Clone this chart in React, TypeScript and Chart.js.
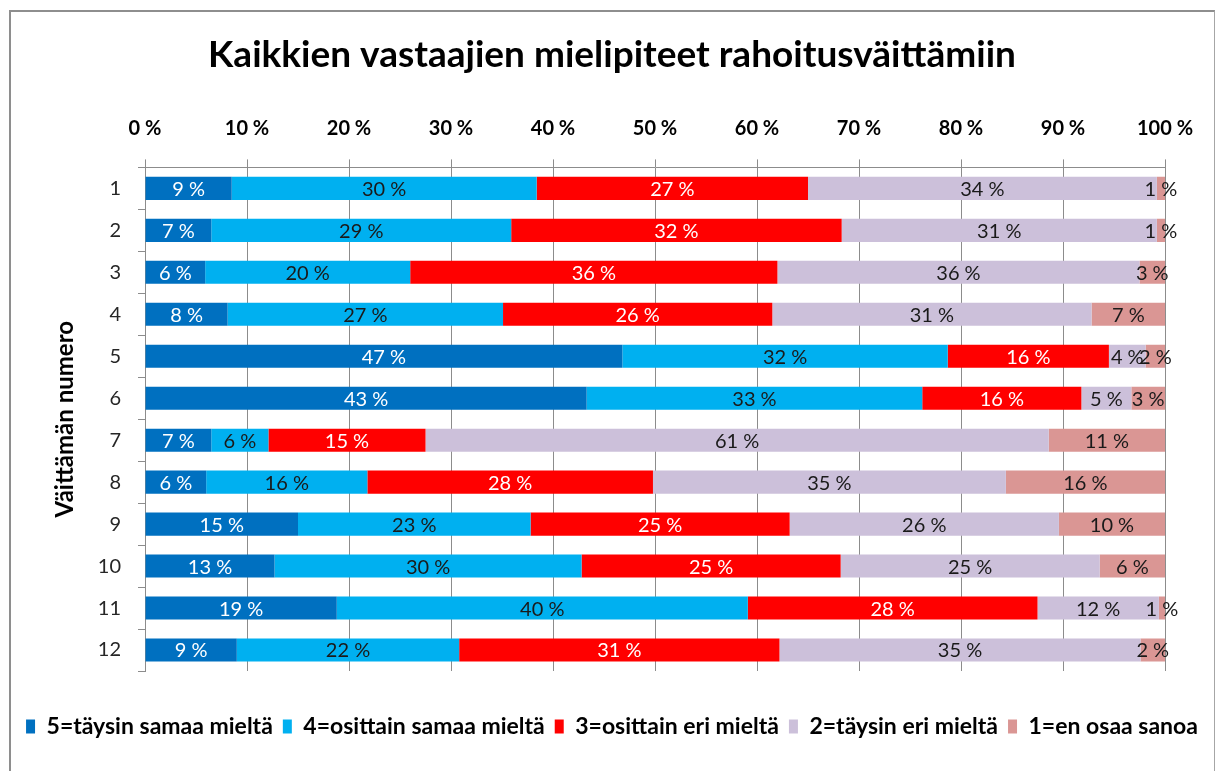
import React, { useEffect, useRef } from 'react';
import { Chart, registerables } from 'chart.js';

Chart.register(...registerables);

const chartTitle = 'Kaikkien vastaajien mielipiteet rahoitusväittämiin';
const yTitle = 'Väittämän numero';
const categories = ['1', '2', '3', '4', '5', '6', '7', '8', '9', '10', '11', '12'];
const seriesNames = [
  '5=täysin samaa mieltä',
  '4=osittain samaa mieltä',
  '3=osittain eri mieltä',
  '2=täysin eri mieltä',
  '1=en osaa sanoa',
];
const seriesColors = ['#0070C0', '#00B0F0', '#FF0000', '#CCC0DA', '#DA9694'];
const labelColors = ['#FFFFFF', '#1A1A1A', '#FFFFFF', '#1A1A1A', '#1A1A1A'];

const s5 = [8.5, 6.5, 5.9, 8.1, 46.8, 43.3, 6.5, 6.0, 15.0, 12.7, 18.8, 9.0];
const s4 = [29.9, 29.4, 20.1, 27.0, 31.9, 32.9, 5.6, 15.8, 22.8, 30.1, 40.3, 21.8];
const s3 = [26.6, 32.4, 36.0, 26.4, 15.8, 15.6, 15.4, 28.0, 25.4, 25.4, 28.4, 31.4];
const s2 = [34.2, 30.9, 35.5, 31.3, 3.6, 4.9, 61.1, 34.6, 26.4, 25.4, 11.9, 35.4];
const s1 = [0.8, 0.8, 2.5, 7.2, 1.9, 3.3, 11.4, 15.6, 10.4, 6.4, 0.6, 2.4];
const seriesValues = [s5, s4, s3, s2, s1];

const FONT = 'Lato';

const barLabels = {
  id: 'barLabels',
  afterDatasetsDraw(chart: any) {
    const ctx = chart.ctx;
    ctx.save();
    ctx.font = `20px ${FONT}`;
    ctx.textAlign = 'center';
    ctx.textBaseline = 'middle';
    chart.data.datasets.forEach((ds: any, i: number) => {
      const meta = chart.getDatasetMeta(i);
      meta.data.forEach((bar: any, j: number) => {
        const v = ds.data[j] as number;
        const { x, y, base } = bar.getProps(['x', 'y', 'base'], true);
        ctx.fillStyle = labelColors[i];
        ctx.fillText(`${Math.round(v)} %`, (x + base) / 2, y + 1);
      });
    });
    ctx.restore();
  },
};

export default function App() {
  const ref = useRef<HTMLCanvasElement | null>(null);

  useEffect(() => {
    let chart: Chart | null = null;
    let cancelled = false;
    const make = () => {
      if (cancelled || !ref.current) return;
      chart = new Chart(ref.current, {
        type: 'bar',
        data: {
          labels: categories,
          datasets: seriesNames.map((name, i) => ({
            label: name,
            data: seriesValues[i],
            backgroundColor: seriesColors[i],
            borderWidth: 0,
            barPercentage: 0.55,
            categoryPercentage: 1,
          })),
        },
        options: {
          indexAxis: 'y',
          responsive: false,
          animation: false,
          devicePixelRatio: 1,
          layout: { padding: { left: 8, right: 0, top: 0, bottom: 23 } },
          plugins: {
            title: {
              display: true,
              text: chartTitle,
              color: '#000',
              font: { family: FONT, size: 37, weight: 'bold' },
              padding: { top: 33, bottom: 0 },
            },
            legend: {
              position: 'bottom',
              labels: {
                boxWidth: 9,
                boxHeight: 14,
                padding: 10,
                color: '#000',
                font: { family: FONT, size: 23, weight: 'bold' },
              },
            },
            tooltip: { enabled: false },
          },
          scales: {
            x: {
              type: 'linear',
              position: 'top',
              stacked: true,
              min: 0,
              max: 100,
              ticks: {
                stepSize: 10,
                padding: 19,
                color: '#000',
                font: { family: FONT, size: 20, weight: 'bold' },
                callback: (v: any) => `${v} %`,
              },
              grid: { color: '#8c8c8c', tickLength: 8, lineWidth: 1 },
              border: { display: true, color: '#8c8c8c' },
              afterFit: (s: any) => {
                s.height = 90;
              },
            },
            x2: {
              type: 'linear',
              position: 'bottom',
              display: true,
              ticks: { display: false },
              grid: { display: false },
              border: { display: false },
              afterFit: (s: any) => {
                s.height = 34;
              },
            },
            y: {
              type: 'category',
              stacked: true,
              ticks: {
                padding: 17,
                color: '#262626',
                font: { family: FONT, size: 20 },
              },
              grid: {
                drawOnChartArea: false,
                offset: true,
                tickLength: 7,
                color: '#8c8c8c',
              },
              border: { display: true, color: '#8c8c8c' },
              title: {
                display: true,
                text: yTitle,
                color: '#000',
                font: { family: FONT, size: 24, weight: 'bold' },
                padding: { top: 43, bottom: 0 },
              },
              afterFit: (s: any) => {
                s.width = 137;
              },
            },
            y2: {
              type: 'linear',
              position: 'right',
              display: true,
              ticks: { display: false },
              grid: { display: false },
              border: { display: false },
              afterFit: (s: any) => {
                s.width = 51;
              },
            },
          },
        } as any,
        plugins: [barLabels],
      });
    };
    const fonts = (document as any).fonts;
    if (fonts && fonts.load) {
      Promise.all([
        fonts.load(`bold 20px ${FONT}`),
        fonts.load(`20px ${FONT}`),
        fonts.load(`bold 37px ${FONT}`),
      ]).then(make, make);
    } else {
      make();
    }
    return () => {
      cancelled = true;
      if (chart) chart.destroy();
    };
  }, []);

  return (
    <>
      <canvas
        ref={ref}
        width={1216}
        height={771}
        style={{ position: 'fixed', left: 0, top: 0, width: 1216, height: 771, background: '#fff' }}
      />
      <div
        style={{
          position: 'fixed',
          left: 9,
          top: 10,
          width: 1206,
          height: 800,
          boxSizing: 'border-box',
          borderTop: '2px solid #8e8e8e',
          borderLeft: '2px solid #8e8e8e',
          borderRight: '1px solid #a6a6a6',
          pointerEvents: 'none',
        }}
      />
    </>
  );
}
